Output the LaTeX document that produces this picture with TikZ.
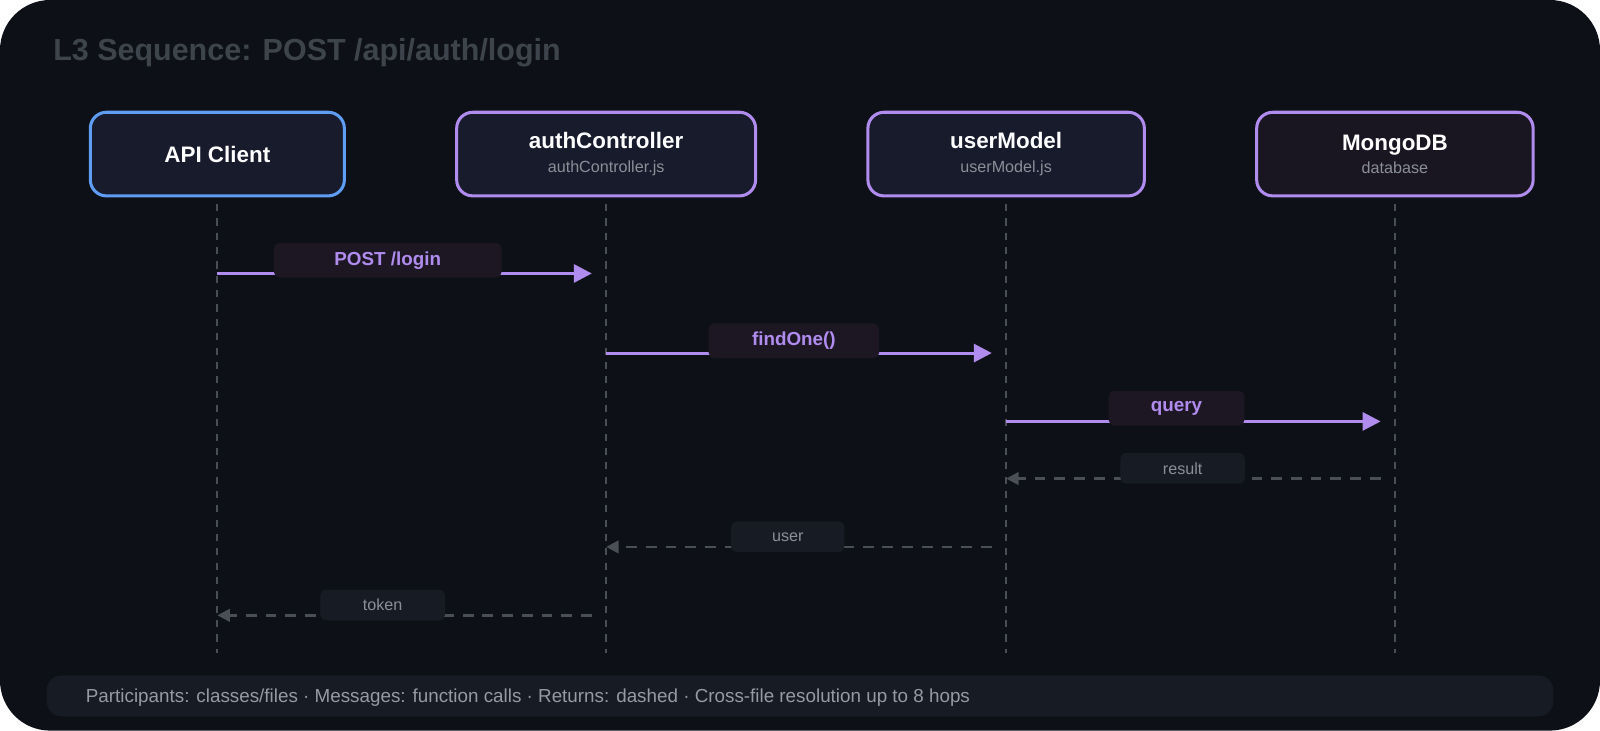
\documentclass[tikz,border=0pt]{standalone}
\usepackage{fontspec}
\setmainfont{Liberation Sans}
\usetikzlibrary{arrows.meta}
\definecolor{bgdark}{HTML}{0D1117}
\definecolor{boxfill}{HTML}{171B2B}
\definecolor{dbfill}{HTML}{1A1621}
\definecolor{purp}{HTML}{B08CEE}
\definecolor{bluee}{HTML}{5F9DF2}
\definecolor{msgbg}{HTML}{1D1724}
\definecolor{retbg}{HTML}{171C24}
\definecolor{lifeg}{HTML}{4A4F57}
\definecolor{titleg}{HTML}{3E444C}
\definecolor{subg}{HTML}{8A8F98}
\tikzset{
  part/.style={draw=purp, line width=1.7pt, rounded corners=9pt, fill=boxfill, minimum height=1.64cm, text=white, align=center, font=\fontsize{12.5}{14}\selectfont\bfseries},
  life/.style={lifeg, line width=1pt, dash pattern=on 4pt off 4pt},
  call/.style={purp, line width=1.7pt, -{Triangle[length=10pt,width=10pt]}},
  ret/.style={lifeg, line width=1.5pt, dash pattern=on 6pt off 5pt, -{Triangle[length=7pt,width=7pt]}},
  clab/.style={fill=msgbg, rounded corners=3pt, text=purp, font=\fontsize{10.5}{12}\selectfont\bfseries, minimum height=0.68cm},
  rlab/.style={fill=retbg, rounded corners=3pt, text=subg, font=\fontsize{9}{11}\selectfont, minimum height=0.6cm}
}
\newcommand{\sub}[1]{\\[-1pt]{\fontsize{9}{11}\selectfont\mdseries\color{subg}#1}}
\begin{document}
\begin{tikzpicture}[x=0.02cm,y=-0.02cm]
\fill[white] (0,0) rectangle (1600,731);
\fill[bgdark, rounded corners=28pt] (0,0) rectangle (1568,716);

\node[anchor=west, text=titleg, font=\fontsize{17}{19}\selectfont\bfseries] (title) at (46,52) {L3 Sequence: POST /api/auth/login};

% participants
\node[part, draw=bluee, minimum width=4.98cm] (client) at (213,151) {API Client};
\node[part, minimum width=5.86cm] (auth) at (594,151) {authController\sub{authController.js}};
\node[part, minimum width=5.42cm] (model) at (986,151) {userModel\sub{userModel.js}};
\node[part, fill=dbfill, minimum width=5.42cm] (mongo) at (1367,151) {MongoDB\sub{database}};

% lifelines
\foreach \p/\x in {client/213, auth/594, model/986, mongo/1367} {
  \coordinate (\p top) at (\x,200);
  \coordinate (\p bot) at (\x,640);
  \draw[life] (\p top) -- (\p bot);
}

% calls
\coordinate (m1a) at (213,268); \coordinate (m1b) at (580,268);
\coordinate (m2a) at (594,346); \coordinate (m2b) at (972,346);
\coordinate (m3a) at (986,413); \coordinate (m3b) at (1353,413);
\draw[call] (m1a) -- (m1b);
\draw[call] (m2a) -- (m2b);
\draw[call] (m3a) -- (m3b);
\node[clab, minimum width=4.46cm] (l1) at (380,255) {POST /login};
\node[clab, minimum width=3.34cm] (l2) at (778,334) {findOne()};
\node[clab, minimum width=2.66cm] (l3) at (1153,400) {query};

% returns
\coordinate (r1a) at (1353,469); \coordinate (r1b) at (986,469);
\coordinate (r2a) at (972,536); \coordinate (r2b) at (594,536);
\coordinate (r3a) at (580,603); \coordinate (r3b) at (213,603);
\draw[ret] (r1a) -- (r1b);
\draw[ret] (r2a) -- (r2b);
\draw[ret] (r3a) -- (r3b);
\node[rlab, minimum width=2.44cm] (l4) at (1159,459) {result};
\node[rlab, minimum width=2.22cm] (l5) at (772,526) {user};
\node[rlab, minimum width=2.44cm] (l6) at (375,593) {token};

% footer
\fill[retbg, rounded corners=8pt] (46,662) rectangle (1522,702);
\node[anchor=west, text=subg!90!white, font=\fontsize{10.5}{12}\selectfont] (foot) at (78,684) {Participants: classes/files · Messages: function calls · Returns: dashed · Cross-file resolution up to 8 hops};
\pgfresetboundingbox
\useasboundingbox (0,0) rectangle (1568,716);
\end{tikzpicture}
\end{document}
